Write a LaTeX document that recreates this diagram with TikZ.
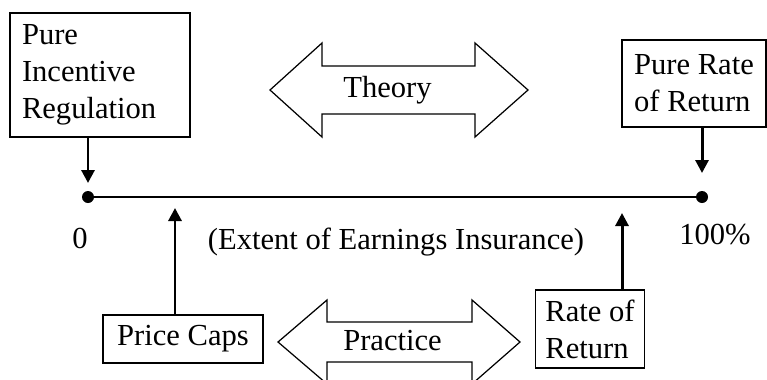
\documentclass[tikz,border=0pt]{standalone}
\usepackage{fontspec}
\setmainfont{Liberation Serif}
\usetikzlibrary{arrows.meta}

\tikzset{
    reg box/.style={
      draw=black,
      line width=0.75pt,
      align=left,
      inner xsep=0.2cm,
      font=\fontsize{17.4}{21}\selectfont
    },
    reg label/.style={
      font=\fontsize{17.4}{21}\selectfont
    },
    axis line/.style={
      draw=black,
      line width=1.5pt
    },
    axis dot/.style={
      circle,
      fill=black,
      inner sep=0pt,
      minimum size=0.24cm
    },
    feed/.style={
      line width=1.7pt,
      -{Triangle[length=0.26cm,width=0.26cm]}
    },
    wide arrow/.style={
      draw=black,
      line width=0.7pt,
      line join=miter
    }
  }

\begin{document}
\begin{tikzpicture}
      \useasboundingbox (0,0) rectangle (15.34,7.58);
      \clip (0,0) rectangle (15.34,7.58);

      % Achse
      \node[axis dot] (zero) at (1.76,3.64) {};
      \node[axis dot] (full) at (14.04,3.64) {};
      \draw[axis line] (zero) -- (full);
      \coordinate (caps) at (3.5,3.64);
      \coordinate (ror) at (12.44,3.64);

      \node[reg label] (lzero) at (1.6,2.82) {0};
      \node[reg label] (lfull) at (14.3,2.88) {100\%};
      \node[reg label] (extent) at (7.92,2.74) {(Extent of Earnings Insurance)};

      % Kaesten
      \node[reg box, text width=3.12cm, inner xsep=0.24cm, minimum height=2.48cm]
        (pir) at (2.0,6.08) {Pure\\Incentive\\Regulation};
      \node[reg box, minimum width=2.88cm, minimum height=1.74cm]
        (prr) at (13.88,5.91) {Pure Rate\\of Return};
      \node[reg box, minimum width=3.2cm, minimum height=0.96cm]
        (pcap) at (3.66,0.80) {Price Caps};
      \node[reg box, minimum width=2.16cm, minimum height=1.56cm]
        (rret) at (11.8,1.0) {Rate of\\Return};

      % Pfeile
      \draw[feed] (pir.south -| zero) -- ([yshift=0.28cm]zero.center);
      \draw[feed] (prr.south -| full) -- ([yshift=0.48cm]full.center);
      \draw[feed] (pcap.north -| caps) -- ([yshift=-0.22cm]caps);
      \draw[feed] (rret.north -| ror) -- ([yshift=-0.32cm]ror);

      % Doppelpfeile
      \draw[wide arrow] (5.4,5.78) -- (6.44,6.72) -- (6.44,6.26) -- (9.5,6.26)
        -- (9.5,6.72) -- (10.56,5.78) -- (9.5,4.84) -- (9.5,5.30)
        -- (6.44,5.30) -- (6.44,4.84) -- cycle;
      \node[reg label] (theory) at (7.75,5.78) {Theory};

      \draw[wide arrow] (5.56,0.74) -- (6.54,1.58) -- (6.54,1.14) -- (9.44,1.14)
        -- (9.44,1.58) -- (10.4,0.74) -- (9.44,-0.10) -- (9.44,0.34)
        -- (6.54,0.34) -- (6.54,-0.10) -- cycle;
      \node[reg label] (practice) at (7.85,0.76) {Practice};
    \end{tikzpicture}
\end{document}
